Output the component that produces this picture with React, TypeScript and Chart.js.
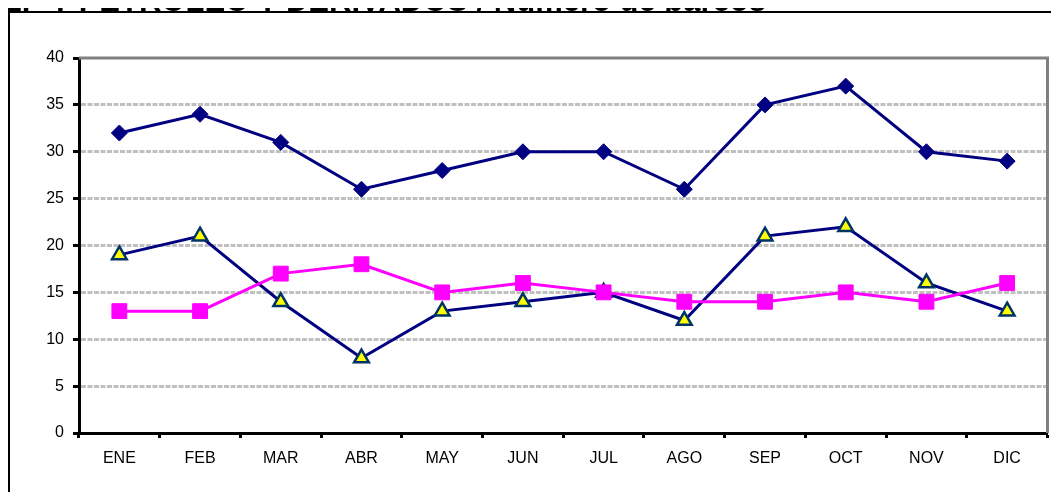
import React, { useEffect, useRef } from "react";
import { Chart, registerables } from "chart.js";

Chart.register(...registerables);

const titleText = "GLP Y PETRÓLEO Y DERIVADOS / Número de barcos";
const months = ["ENE", "FEB", "MAR", "ABR", "MAY", "JUN", "JUL", "AGO", "SEP", "OCT", "NOV", "DIC"];
const seriesDiamond = [32, 34, 31, 26, 28, 30, 30, 26, 35, 37, 30, 29];
const seriesTriangle = [19, 21, 14, 8, 13, 14, 15, 12, 21, 22, 16, 13];
const seriesSquare = [13, 13, 17, 18, 15, 16, 15, 14, 14, 15, 14, 16];
const yMin = 0;
const yMax = 40;
const yStep = 5;

const areaBorder = {
  id: "areaBorder",
  beforeDatasetsDraw(chart: any) {
    const { ctx, chartArea } = chart;
    ctx.save();
    ctx.strokeStyle = "#808080";
    ctx.lineWidth = 3;
    ctx.beginPath();
    ctx.moveTo(chartArea.left, chartArea.top);
    ctx.lineTo(chartArea.right, chartArea.top);
    ctx.lineTo(chartArea.right, chartArea.bottom);
    ctx.stroke();
    ctx.restore();
  },
};

export default function App() {
  const ref = useRef<HTMLCanvasElement | null>(null);
  useEffect(() => {
    if (!ref.current) return;
    const chart = new Chart(ref.current, {
      type: "line",
      data: {
        labels: months,
        datasets: [
          {
            data: seriesDiamond,
            borderColor: "#000080",
            backgroundColor: "#000080",
            borderWidth: 3,
            pointStyle: "rectRot",
            pointRadius: 8,
            pointBorderWidth: 1,
            pointBorderColor: "#000080",
            pointBackgroundColor: "#000080",
            tension: 0,
          },
          {
            data: seriesSquare,
            borderColor: "#ff00ff",
            backgroundColor: "#ff00ff",
            borderWidth: 3,
            pointStyle: "rect",
            pointRadius: 10.5,
            pointBorderWidth: 1,
            pointBorderColor: "#ff00ff",
            pointBackgroundColor: "#ff00ff",
            tension: 0,
          },
          {
            data: seriesTriangle,
            borderColor: "#000080",
            backgroundColor: "#ffff00",
            borderWidth: 3,
            pointStyle: "triangle",
            pointRadius: 8.5,
            pointBorderWidth: 2.5,
            pointBorderColor: "#003366",
            pointBackgroundColor: "#ffff00",
            tension: 0,
          },
        ],
      },
      options: {
        animation: false,
        responsive: false,
        maintainAspectRatio: false,
        layout: { padding: { left: 0, top: 58, right: 7, bottom: 0 } },
        plugins: {
          legend: { display: false },
          tooltip: { enabled: false },
          title: { display: false },
        },
        scales: {
          x: {
            offset: true,
            grid: {
              offset: true,
              display: true,
              drawOnChartArea: false,
              drawTicks: true,
              tickLength: 5,
              tickColor: "#000000",
              tickWidth: 3,
            },
            border: { display: true, color: "#000000", width: 3 },
            ticks: {
              color: "#000000",
              padding: 11,
              font: { family: "Arial, 'Liberation Sans', sans-serif", size: 16 },
            },
            afterFit(scale: any) {
              scale.height = 67;
            },
          },
          y: {
            min: yMin,
            max: yMax,
            ticks: {
              stepSize: yStep,
              color: "#000000",
              padding: 9,
              font: { family: "Arial, 'Liberation Sans', sans-serif", size: 16 },
            },
            grid: {
              color: (c: any) => (c.tick && c.tick.value === yMax ? "rgba(0,0,0,0)" : "#c0c0c0"),
              lineWidth: 3,
              drawTicks: true,
              tickLength: 6,
              tickColor: "#000000",
              tickWidth: 3,
              tickBorderDash: [],
            },
            border: { display: true, color: "#000000", width: 3, dash: [5, 1.5] },
            afterFit(scale: any) {
              scale.width = 79;
            },
          },
        },
      },
      plugins: [areaBorder],
    });
    return () => chart.destroy();
  }, []);

  return (
    <div
      style={{
        position: "relative",
        width: 1059,
        height: 500,
        margin: -8,
        overflow: "hidden",
        background: "#ffffff",
      }}
    >
      <div
        style={{
          position: "absolute",
          left: 8,
          top: 11,
          width: 1200,
          height: 700,
          border: "2px solid #000000",
        }}
      />
      <canvas
        ref={ref}
        width={1059}
        height={500}
        style={{ position: "absolute", left: 0, top: 0, width: 1059, height: 500 }}
      />
      <div
        style={{
          position: "absolute",
          right: 1059 - 766,
          top: -17,
          whiteSpace: "nowrap",
          fontFamily: "Arial, 'Liberation Sans', sans-serif",
          fontWeight: 700,
          fontSize: 31,
          lineHeight: "36px",
          color: "#000000",
          zIndex: 2,
        }}
      >
        {titleText}
      </div>
    </div>
  );
}
